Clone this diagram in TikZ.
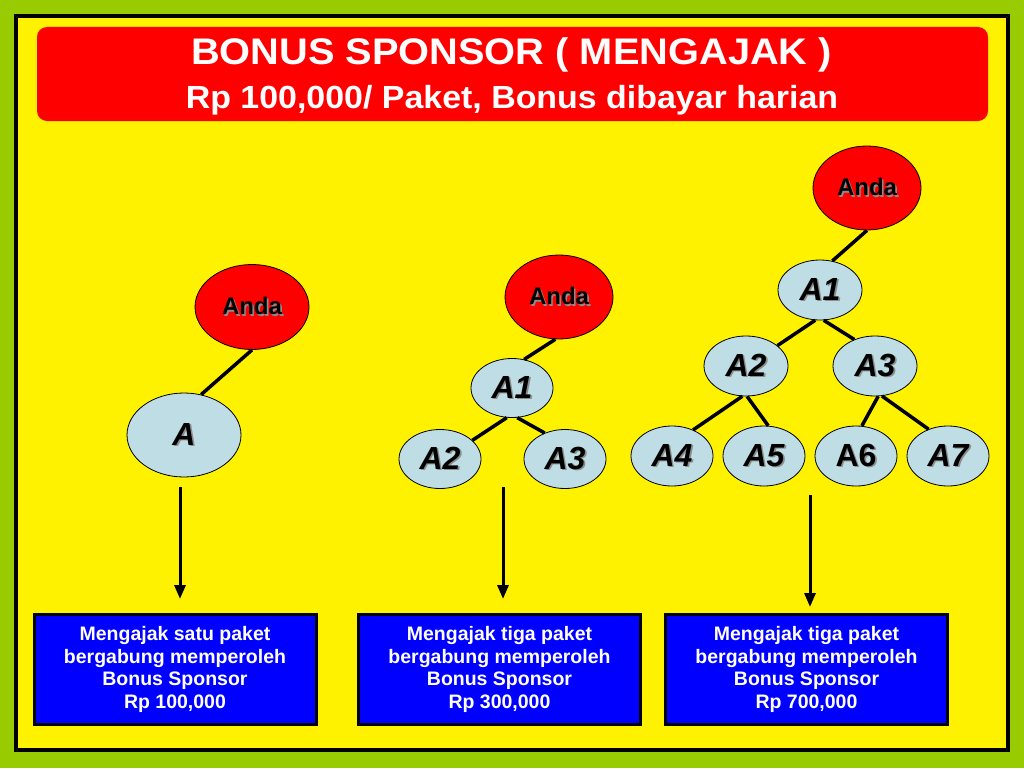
\documentclass[tikz,border=0pt]{standalone}
\usepackage{fontspec}
\setmainfont{Liberation Sans}
\usetikzlibrary{shapes.geometric,arrows.meta}
\definecolor{bggreen}{RGB}{153,204,0}
\definecolor{nodeblue}{RGB}{190,221,228}
\definecolor{shadowgray}{RGB}{140,140,140}
\newcommand{\shd}[1]{\makebox[0pt][l]{\hspace{1.6pt}\raisebox{-1.6pt}{\textcolor{shadowgray}{#1}}}#1}
\begin{document}
\begin{tikzpicture}[x=1pt,y=-1pt,
  anda/.style={ellipse, draw=black, line width=0.8pt, fill=red, inner sep=0pt,
    minimum width=108pt, minimum height=84pt, font=\fontsize{24}{26}\selectfont\bfseries},
  mem/.style={ellipse, draw=black, line width=0.8pt, fill=nodeblue, inner sep=0pt,
    minimum width=82pt, minimum height=59pt, font=\fontsize{32}{34}\selectfont\bfseries\itshape},
  link/.style={line width=3.5pt},
  down/.style={line width=3pt, -{Triangle[length=14pt,width=11pt]}},
  infobox/.style={rectangle, draw=black, line width=3pt, fill=blue, text=white,
    minimum width=282pt, minimum height=110pt, inner sep=0pt, align=center,
    font=\fontsize{19.5}{22.7}\selectfont\bfseries},
  titlebox/.style={rectangle, rounded corners=10pt, fill=red, inner sep=0pt,
    minimum width=951pt, minimum height=94pt},
  titletext/.style={anchor=base, text=white, inner sep=0pt}
  ]
\useasboundingbox (0,0) rectangle (1024,768);
\fill[bggreen] (0,0) rectangle (1024,768);
\draw[line width=4pt, fill=yellow] (16,16) rectangle (1008,750);

% title
\node[titlebox] (title) at (512.5,74) {};
\node[titletext, font=\fontsize{37}{40}\selectfont\bfseries] (t1) at (511.5,64) {\scalebox{1.075}[1]{BONUS SPONSOR ( MENGAJAK )}};
\node[titletext, font=\fontsize{32}{35}\selectfont\bfseries] (t2) at (512,108) {\scalebox{1.06}[1]{Rp 100,000/ Paket, Bonus dibayar harian}};

% tree 1
\node[anda, minimum width=114pt, minimum height=85pt] (anda1) at (252,307) {\shd{Anda}};
\node[mem, minimum width=114pt, minimum height=84pt] (a) at (184,435) {\shd{A}};
\draw[link] (anda1.south) -- (a.67);

% tree 2
\node[anda] (anda2) at (559,297) {\shd{Anda}};
\node[mem] (b1) at (512,388) {\shd{A1}};
\node[mem] (b2) at (440,459) {\shd{A2}};
\node[mem] (b3) at (565,459) {\shd{A3}};
\draw[link] (anda2.-95) -- (b1.67);
\draw[link] (b1.-100) -- (b2.30);
\draw[link] (b1.-80) -- (b3.128);

% tree 3
\node[anda] (anda3) at (867,188) {\shd{Anda}};
\node[mem, minimum width=84pt, minimum height=60pt] (c1) at (820,290) {\shd{A1}};
\node[mem, minimum width=84pt, minimum height=60pt] (c2) at (746,366) {\shd{A2}};
\node[mem, minimum width=84pt, minimum height=60pt] (c3) at (875,366) {\shd{A3}};
\node[mem, minimum height=60pt] (c4) at (672,456) {\shd{A4}};
\node[mem, minimum height=60pt] (c5) at (764,456) {\shd{A5}};
\node[mem, minimum height=60pt, font=\fontsize{32}{34}\selectfont\bfseries] (c6) at (856,456) {\shd{A6}};
\node[mem, minimum height=60pt] (c7) at (948,456) {\shd{A7}};
\draw[link] (anda3.south) -- (c1.67);
\draw[link] (c1.-99) -- (c2.33);
\draw[link] (c1.-83) -- (c3.128);
\draw[link] (c2.-97) -- (c4.51);
\draw[link] (c2.-88) -- (c5.82);
\draw[link] (c3.-84) -- (c6.79);
\draw[link] (c3.-77) -- (c7.126);

% info boxes
\node[infobox] (box1) at (175,669.5) {Mengajak satu paket\\bergabung memperoleh\\Bonus Sponsor\\Rp 100,000};
\node[infobox] (box2) at (499.5,669.5) {Mengajak tiga paket\\bergabung memperoleh\\Bonus Sponsor\\Rp 300,000};
\node[infobox] (box3) at (806.5,669.5) {Mengajak tiga paket\\bergabung memperoleh\\Bonus Sponsor\\Rp 700,000};

% arrows
\coordinate (s1) at (180,487);
\coordinate (e1) at (180,599);
\coordinate (s2) at (503,487);
\coordinate (e2) at (503,599);
\coordinate (s3) at (810,495);
\coordinate (e3) at (810,607);
\draw[down] (s1) -- (e1);
\draw[down] (s2) -- (e2);
\draw[down] (s3) -- (e3);
\end{tikzpicture}
\end{document}
